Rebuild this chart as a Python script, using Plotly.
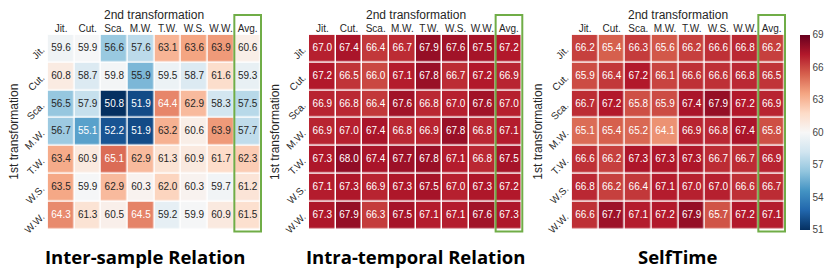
import plotly.graph_objects as go

cols = ["Jit.", "Cut.", "Sca.", "M.W.", "T.W.", "W.S.", "W.W.", "Avg."]
rows = ["Jit.", "Cut.", "Sca.", "M.W.", "T.W.", "W.S.", "W.W."]

inter_sample = [
    [59.6, 59.9, 56.6, 57.6, 63.1, 63.6, 63.9, 60.6],
    [60.8, 58.7, 59.8, 55.9, 59.5, 58.7, 61.6, 59.3],
    [56.5, 57.9, 50.8, 51.9, 64.4, 62.9, 58.3, 57.5],
    [56.7, 55.1, 52.2, 51.9, 63.2, 60.6, 63.9, 57.7],
    [63.4, 60.9, 65.1, 62.9, 61.3, 60.9, 61.7, 62.3],
    [63.5, 59.9, 62.9, 60.3, 62.0, 60.3, 59.7, 61.2],
    [64.3, 61.3, 60.5, 64.5, 59.2, 59.9, 60.9, 61.5],
]
intra_temporal = [
    [67.0, 67.4, 66.4, 66.7, 67.9, 67.6, 67.5, 67.2],
    [67.2, 66.5, 66.0, 67.1, 67.8, 66.7, 67.2, 66.9],
    [66.9, 66.8, 66.4, 67.6, 66.8, 67.0, 67.6, 67.0],
    [66.9, 67.0, 67.4, 66.8, 66.9, 67.8, 66.8, 67.1],
    [67.3, 68.0, 67.4, 67.7, 67.8, 67.1, 66.8, 67.5],
    [67.1, 67.3, 66.9, 67.3, 67.5, 67.0, 67.3, 67.2],
    [67.3, 67.9, 66.3, 67.5, 67.1, 67.1, 67.6, 67.3],
]
selftime = [
    [66.2, 65.4, 66.3, 65.6, 66.2, 66.6, 66.8, 66.2],
    [65.9, 66.4, 67.2, 66.1, 66.6, 66.6, 66.8, 66.5],
    [66.7, 67.2, 65.8, 65.9, 67.4, 67.9, 67.2, 66.9],
    [65.1, 65.4, 65.2, 64.1, 66.9, 66.8, 67.4, 65.8],
    [66.6, 66.2, 67.3, 67.3, 67.3, 66.7, 66.7, 66.9],
    [66.8, 66.2, 66.4, 67.1, 67.0, 67.0, 66.6, 66.7],
    [66.6, 67.7, 67.1, 67.2, 67.9, 65.7, 67.2, 67.1],
]
titles = ["Inter-sample Relation", "Intra-temporal Relation", "SelfTime"]
panels = [inter_sample, intra_temporal, selftime]
cbar_ticks = [51, 54, 57, 60, 63, 66, 69]

W, H = 831, 272
rdbu_r = ["#053061", "#2166ac", "#4393c3", "#92c5de", "#d1e5f0", "#f7f7f7",
          "#fddbc7", "#f4a582", "#d6604d", "#b2182b", "#67001f"]
cscale = [[i / 10, c] for i, c in enumerate(rdbu_r)]

# pixel geometry
x_left = [47.7, 309.0, 571.7]
hm_w = 213.3
y_top, y_bot = 34.7, 229.3
title_cx = [145, 415, 677]

def px(x):
    return x / W

def py(y):
    return 1 - y / H

fig = go.Figure()
shapes = []
annotations = []
for i, (z, title) in enumerate(zip(panels, titles)):
    xa = "x" if i == 0 else f"x{i+1}"
    ya = "y" if i == 0 else f"y{i+1}"
    fig.add_trace(go.Heatmap(
        z=z, x=list(range(8)), y=list(range(7)), coloraxis="coloraxis",
        xgap=1.5, ygap=1.5, xaxis=xa, yaxis=ya, hoverinfo="skip"))
    tx, ty, tt, tc = [], [], [], []
    for r in range(7):
        for c in range(8):
            v = z[r][c]
            tx.append(c); ty.append(r); tt.append(f"{v:.1f}")
            tc.append("white" if (v > 64.0 or v < 55.5) else "#262626")
    fig.add_trace(go.Scatter(
        x=tx, y=ty, text=tt, mode="text", xaxis=xa, yaxis=ya,
        textfont=dict(family="Liberation Sans, Arial", size=10, color=tc),
        hoverinfo="skip", showlegend=False))
    sfx = "" if i == 0 else str(i + 1)
    fig.update_layout(**{
        f"xaxis{sfx}": dict(domain=[px(x_left[i]), px(x_left[i] + hm_w)],
                            anchor=ya, range=[-0.5, 7.5], side="top",
                            tickvals=list(range(8)), ticktext=cols,
                            showgrid=False, zeroline=False, showline=False,
                            ticks="", automargin=False, fixedrange=True,
                            tickfont=dict(family="Liberation Sans, Arial", size=10, color="#262626")),
        f"yaxis{sfx}": dict(domain=[py(y_bot), py(y_top)], anchor=xa,
                            range=[6.5, -0.5], tickvals=list(range(7)),
                            ticktext=rows, tickangle=-45, ticklabelstandoff=5,
                            showgrid=False, zeroline=False, showline=False,
                            ticks="", automargin=False, fixedrange=True,
                            tickfont=dict(family="Liberation Sans, Arial", size=10, color="#262626")),
    })
    # green box around Avg column
    cw = hm_w / 8
    shapes.append(dict(type="rect", xref="paper", yref="paper",
                       x0=px(x_left[i] + 7 * cw), x1=px(x_left[i] + 8 * cw),
                       y0=py(231.5), y1=py(15),
                       line=dict(color="#70ad47", width=2)))
    annotations.append(dict(text="2nd transformation", xref="paper", yref="paper",
                            x=px(x_left[i] + hm_w / 2), y=py(14.5), showarrow=False,
                            xanchor="center", yanchor="middle",
                            font=dict(family="Liberation Sans, Arial", size=12, color="#262626")))
    annotations.append(dict(text="1st transformation", xref="paper", yref="paper",
                            x=px(x_left[i] - 34), y=py(132), showarrow=False,
                            textangle=-90, xanchor="center", yanchor="middle",
                            font=dict(family="Liberation Sans, Arial", size=12, color="#262626")))
    annotations.append(dict(text=f"<b>{title}</b>", xref="paper", yref="paper",
                            x=px(title_cx[i]), y=py(256.5), showarrow=False,
                            xanchor="center", yanchor="middle",
                            font=dict(family="Open Sans", size=18.5, color="black")))

fig.update_layout(
    width=W, height=H, margin=dict(l=0, r=0, t=0, b=0),
    paper_bgcolor="white", plot_bgcolor="white", showlegend=False,
    shapes=shapes, annotations=annotations,
    coloraxis=dict(colorscale=cscale, cmin=51, cmax=69,
                   colorbar=dict(x=px(800), xanchor="left", xpad=0,
                                 y=py((y_top + y_bot) / 2), yanchor="middle", ypad=0,
                                 len=(y_bot - y_top) / H, lenmode="fraction",
                                 thickness=10, thicknessmode="pixels",
                                 outlinewidth=0, tickvals=cbar_ticks,
                                 ticks="",
                                 tickfont=dict(family="Liberation Sans, Arial", size=10, color="#444444"))),
)
fig.write_html("out.html", config={"displayModeBar": False},
               post_script="document.body.style.margin='0';document.body.style.overflow='hidden';")
